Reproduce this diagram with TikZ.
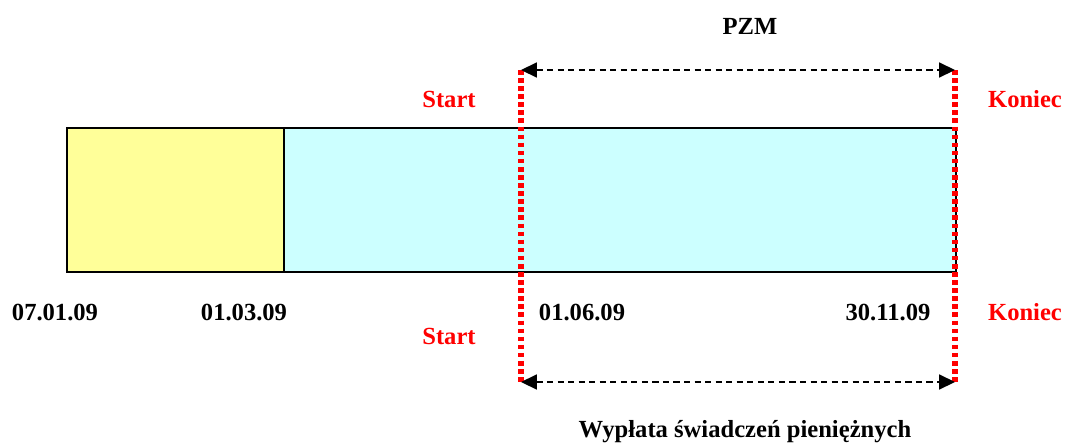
\documentclass[tikz,border=0pt]{standalone}
\usepackage{fontspec}
\setmainfont{Liberation Serif}
\usetikzlibrary{arrows.meta}
\definecolor{jasnyzolty}{HTML}{FFFF99}
\definecolor{jasnyblekit}{HTML}{CCFFFF}

\begin{document}
\begin{tikzpicture}[x=0.02cm, y=-0.02cm,
    okres/.style = {draw=black, line width=0.9pt, inner sep=0pt, anchor=north west},
    etykieta/.style = {font=\fontsize{14}{16}\selectfont\bfseries},
    czerwona/.style = {etykieta, text=red},
    granica/.style = {red, line width=3.2pt, dash pattern=on 2.6pt off 2.0pt},
    zakres/.style = {{Triangle[length=9pt,width=8.5pt]}-{Triangle[length=9pt,width=8.5pt]}, dash pattern=on 3.5pt off 2.5pt, line width=0.9pt}]
     \useasboundingbox (0,0) rectangle (1066,444);
     % okresy
     \node[okres, fill=jasnyzolty, minimum width=217*0.02cm, minimum height=144*0.02cm] (zolty) at (66,127) {};
     \node[okres, fill=jasnyblekit, minimum width=672*0.02cm, minimum height=144*0.02cm] (blekit) at (283,127) {};
     % granice PZM
     \coordinate (startG) at (521,70);
     \coordinate (startD) at (521,382);
     \coordinate (koniecG) at (955,70);
     \coordinate (koniecD) at (955,382);
     \draw[granica] (startG) -- (startD);
     \draw[granica] (koniecG) -- (koniecD);
     \draw[zakres] (startG) -- (koniecG);
     \draw[zakres] (startD) -- (koniecD);
     % opisy
     \node[etykieta] (pzm) at (750,26) {PZM};
     \node[czerwona] (start1) at (449,99) {Start};
     \node[czerwona] (koniec1) at (1025,99) {Koniec};
     \node[czerwona] (start2) at (449,336) {Start};
     \node[czerwona] (koniec2) at (1025,312) {Koniec};
     \node[etykieta] (d1) at (55,312) {07.01.09};
     \node[etykieta] (d2) at (244,312) {01.03.09};
     \node[etykieta] (d3) at (582,312) {01.06.09};
     \node[etykieta] (d4) at (888,312) {30.11.09};
     \node[etykieta] (wyplata) at (745,432) {Wypłata świadczeń pieniężnych};
\end{tikzpicture}
\end{document}
